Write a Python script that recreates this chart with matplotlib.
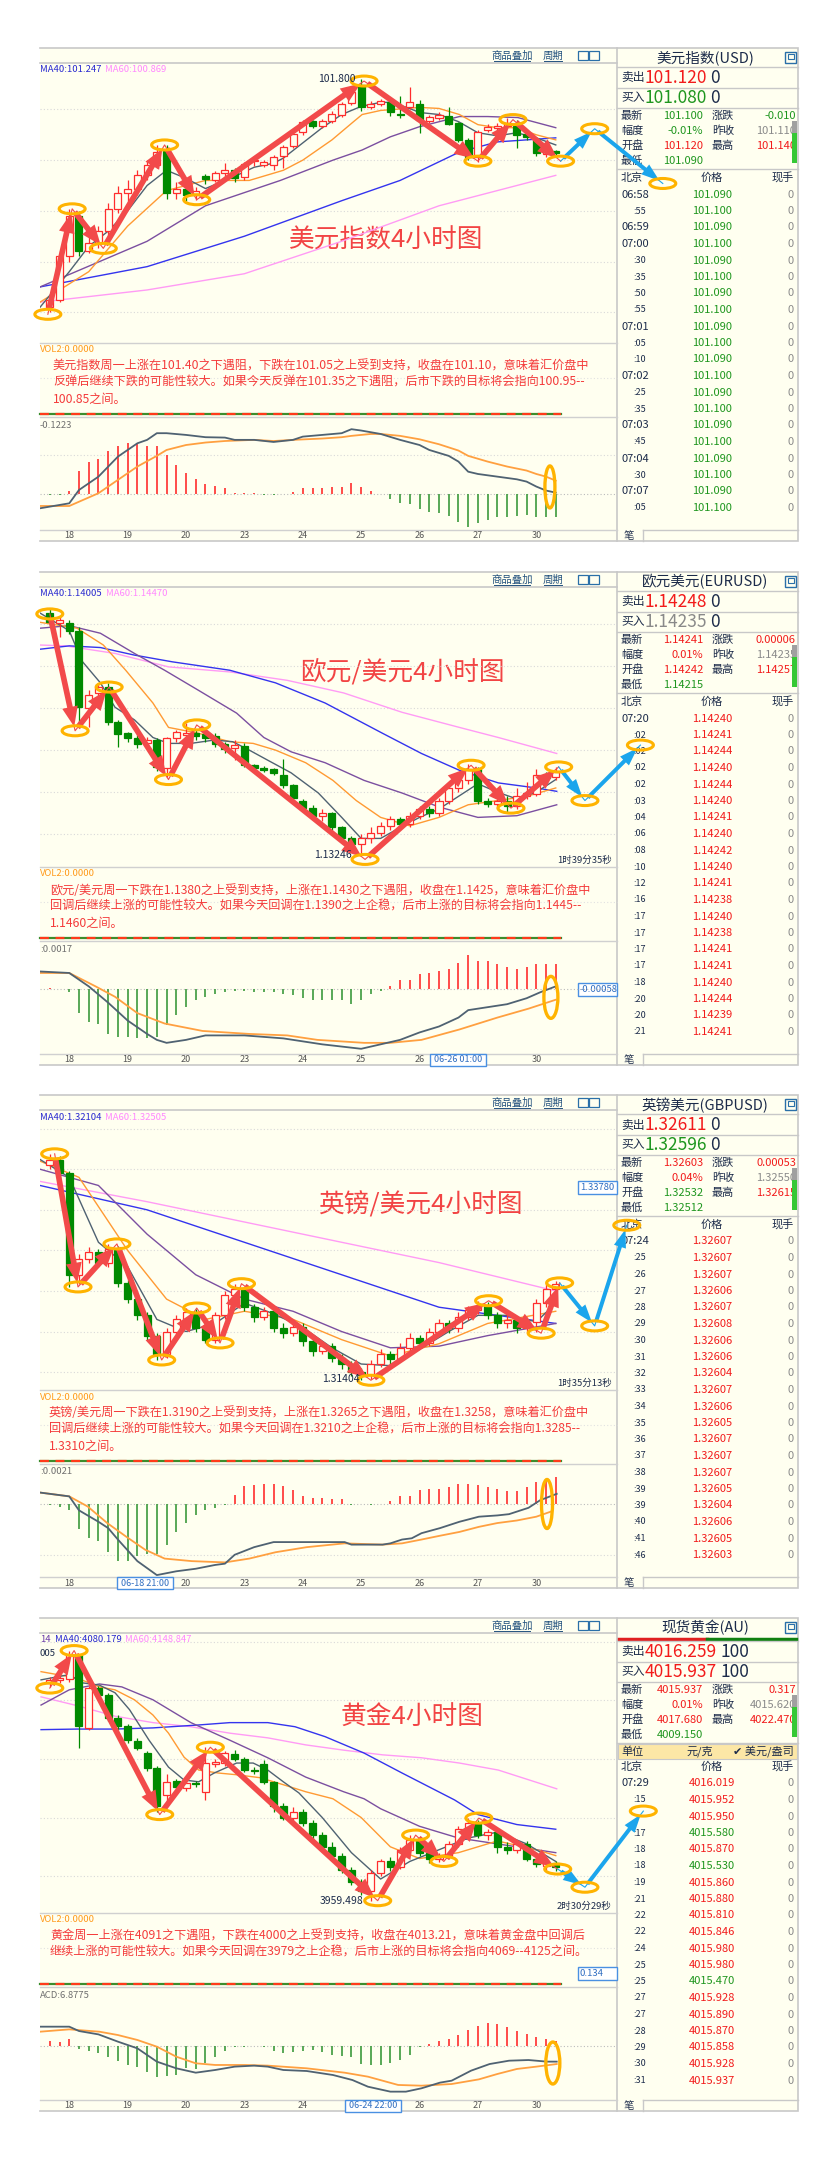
import matplotlib.pyplot as plt
from matplotlib.patches import Rectangle, Ellipse
from matplotlib import transforms

plt.rcParams['font.family'] = ['Noto Sans CJK SC', 'DejaVu Sans']

# ---------------- data ----------------
day_labels = ['18', '19', '20', '23', '24', '25', '26', '27', '30']
day_index = [2, 8, 14, 20, 26, 32, 38, 44, 50]

# 美元指数 4H candles (open, high, low, close)
usd_ohlc = [
    (99.55, 99.66, 99.50, 99.62), (99.62, 100.10, 99.60, 100.05), (100.05, 100.52, 100.00, 100.45),
    (100.45, 100.50, 100.05, 100.10), (100.10, 100.25, 100.08, 100.18), (100.18, 100.35, 100.13, 100.30),
    (100.30, 100.58, 100.25, 100.52), (100.52, 100.75, 100.48, 100.68), (100.68, 100.80, 100.60, 100.72),
    (100.72, 100.90, 100.66, 100.85), (100.85, 101.00, 100.80, 100.95), (100.95, 101.15, 100.92, 101.08),
    (101.09, 101.15, 100.62, 100.68), (100.68, 100.78, 100.62, 100.72), (100.72, 100.76, 100.60, 100.66),
    (100.66, 100.74, 100.61, 100.70), (100.84, 100.86, 100.76, 100.81), (100.80, 100.89, 100.78, 100.87),
    (100.87, 100.97, 100.80, 100.90), (100.90, 100.92, 100.78, 100.82), (100.83, 100.98, 100.80, 100.96),
    (100.99, 101.03, 100.94, 100.99), (100.95, 101.00, 100.93, 100.98), (100.95, 101.05, 100.90, 101.03),
    (101.04, 101.15, 100.92, 101.13), (101.14, 101.28, 101.12, 101.26), (101.28, 101.40, 101.25, 101.38),
    (101.39, 101.40, 101.32, 101.34), (101.34, 101.41, 101.32, 101.39), (101.39, 101.48, 101.37, 101.46),
    (101.45, 101.57, 101.43, 101.55), (101.56, 101.70, 101.54, 101.67), (101.74, 101.80, 101.48, 101.52),
    (101.52, 101.58, 101.50, 101.55), (101.55, 101.60, 101.53, 101.58), (101.57, 101.59, 101.44, 101.47),
    (101.46, 101.63, 101.42, 101.45), (101.52, 101.72, 101.50, 101.57), (101.55, 101.59, 101.27, 101.40),
    (101.39, 101.45, 101.37, 101.43), (101.42, 101.47, 101.40, 101.45), (101.44, 101.52, 101.35, 101.36),
    (101.37, 101.38, 101.18, 101.20), (101.20, 101.22, 101.00, 101.03), (101.03, 101.30, 100.98, 101.28),
    (101.30, 101.36, 101.28, 101.33), (101.32, 101.37, 101.30, 101.34), (101.34, 101.42, 101.32, 101.37),
    (101.34, 101.40, 101.12, 101.25), (101.26, 101.27, 101.20, 101.23), (101.20, 101.22, 101.04, 101.07),
    (101.06, 101.11, 101.03, 101.09), (101.09, 101.10, 101.05, 101.07),
]
usd_ma5 = [(-1, 99.55), (2, 99.9), (4, 100.15), (6, 100.3), (8, 100.5), (10, 100.75), (12, 100.9), (14, 100.82),
           (16, 100.72), (19, 100.84), (21, 100.93), (23, 100.97), (24, 101.02), (26, 101.17), (28, 101.32),
           (30, 101.45), (32, 101.53), (34, 101.57), (35, 101.57), (36.7, 101.52), (38, 101.47), (40, 101.45),
           (42, 101.38), (44, 101.27), (46, 101.24), (48, 101.27), (50, 101.22), (52, 101.15)]
usd_ma10 = [(-1, 99.6), (4, 99.9), (8, 100.35), (12, 100.7), (16, 100.8), (20.5, 100.8), (24, 100.9), (26, 101.0),
            (29, 101.2), (31.1, 101.37), (32.1, 101.45), (34, 101.49), (38, 101.52), (40, 101.51), (42.1, 101.45),
            (44, 101.35), (46, 101.32), (48, 101.32), (50, 101.25), (52, 101.2)]
usd_ma20 = [(-1, 99.75), (10, 100.2), (16, 100.55), (20, 100.68), (23.7, 100.8), (29.1, 101.0), (32.1, 101.1),
            (35, 101.23), (38, 101.33), (42.1, 101.43), (45, 101.43), (48.1, 101.42), (52, 101.32)]
usd_ma40 = [(-1, 99.75), (10, 99.95), (20, 100.25), (30, 100.6), (36, 100.8), (42.1, 101.08), (46, 101.18),
            (52, 101.22)]
usd_ma60 = [(-1, 99.6), (10, 99.72), (20, 99.88), (30, 100.2), (40, 100.55), (52, 100.85)]
usd_swings = [(-0.2, 99.48), (2.3, 100.52), (5.5, 100.13), (11.8, 101.15), (15.1, 100.61), (32.3, 101.78),
              (44.0, 100.99), (47.6, 101.40), (52.5, 100.99)]
usd_forecast = [(52.5, 100.99), (56.0, 101.31), (63.0, 100.77)]
usd_hist = [-0.005, -0.005, 0.018, 0.121, 0.166, 0.182, 0.228, 0.254, 0.270, 0.266, 0.252, 0.252, 0.205,
            0.152, 0.112, 0.077, 0.053, 0.042, 0.030, 0.005, 0.004, 0.004, -0.004, -0.004, 0.001, 0.009,
            0.030, 0.030, 0.030, 0.037, 0.039, 0.056, 0.035, 0.018, 0.002, -0.026, -0.049, -0.053, -0.079,
            -0.096, -0.102, -0.116, -0.145, -0.175, -0.154, -0.137, -0.123, -0.123, -0.116, -0.110, -0.119,
            -0.123, -0.1223]
usd_dif = [(-1, -0.075), (2, -0.049), (3, 0.021), (5, 0.091), (7, 0.196), (9, 0.266), (10, 0.284), (11, 0.319),
           (12, 0.319), (14, 0.310), (16, 0.298), (18, 0.296), (19, 0.284), (21, 0.284), (23, 0.273), (25, 0.284),
           (26, 0.301), (28, 0.310), (30, 0.319), (31, 0.340), (32, 0.333), (34, 0.315), (36, 0.284), (38, 0.257),
           (39, 0.231), (41, 0.200), (42, 0.170), (43, 0.117), (44, 0.105), (46, 0.091), (48, 0.077), (49, 0.065),
           (50, 0.039), (51, 0.018), (52, 0.007)]
usd_dea = [(-1, -0.063), (2, -0.063), (5, 0.004), (7, 0.074), (9, 0.144), (11, 0.200), (12, 0.231), (14, 0.257),
           (16, 0.270), (18, 0.278), (21, 0.284), (23, 0.278), (25, 0.284), (28, 0.291), (30, 0.298), (31, 0.305),
           (33, 0.315), (34, 0.315), (36, 0.305), (38, 0.287), (40, 0.261), (42, 0.228), (43, 0.200), (45, 0.170),
           (47, 0.144), (49, 0.123), (50, 0.105), (51, 0.091), (52, 0.070)]
usd_note = ['美元指数周一上涨在101.40之下遇阻，下跌在101.05之上受到支持，收盘在101.10，意味着汇价盘中',
            '反弹后继续下跌的可能性较大。如果今天反弹在101.35之下遇阻，后市下跌的目标将会指向100.95--',
            '100.85之间。']
usd_quote_ask = ('101.120', '0', 'r')
usd_quote_bid = ('101.080', '0', 'g')
usd_quote_info = [('最新', '101.100', 'g', '涨跌', '-0.010', 'g'), ('幅度', '-0.01%', 'g', '昨收', '101.110', 'k'),
                  ('开盘', '101.120', 'r', '最高', '101.140', 'r'), ('最低', '101.090', 'g', '', '', '')]
usd_ticks = [('06:58', '101.090', 'g'), (':55', '101.100', 'g'), ('06:59', '101.090', 'g'), ('07:00', '101.100', 'g'),
             (':30', '101.090', 'g'), (':35', '101.100', 'g'), (':50', '101.090', 'g'), (':55', '101.100', 'g'),
             ('07:01', '101.090', 'g'), (':05', '101.100', 'g'), (':10', '101.090', 'g'), ('07:02', '101.100', 'g'),
             (':25', '101.090', 'g'), (':35', '101.100', 'g'), ('07:03', '101.090', 'g'), (':45', '101.100', 'g'),
             ('07:04', '101.090', 'g'), (':30', '101.100', 'g'), ('07:07', '101.090', 'g'), (':05', '101.100', 'g')]

# 欧元/美元
eur_ohlc = [
    (1.1613, 1.1618, 1.1598, 1.1602), (1.1601, 1.1610, 1.1585, 1.1605), (1.1601, 1.1605, 1.1588, 1.1592),
    (1.1592, 1.1596, 1.1480, 1.1501), (1.1500, 1.1521, 1.1478, 1.1515), (1.1518, 1.1530, 1.1512, 1.1525),
    (1.1525, 1.1530, 1.1480, 1.1483), (1.1483, 1.1486, 1.1454, 1.1469), (1.1470, 1.1472, 1.1460, 1.1465),
    (1.1465, 1.1468, 1.1452, 1.1457), (1.1458, 1.1466, 1.1455, 1.1462), (1.1462, 1.1465, 1.1425, 1.1430),
    (1.1429, 1.1466, 1.1418, 1.1464), (1.1464, 1.1474, 1.1460, 1.1471), (1.1468, 1.1482, 1.1465, 1.1470),
    (1.1470, 1.1475, 1.1462, 1.1467), (1.1469, 1.1471, 1.1460, 1.1465), (1.1467, 1.1470, 1.1454, 1.1457),
    (1.1457, 1.1460, 1.1447, 1.1451), (1.1452, 1.1462, 1.1438, 1.1456), (1.1455, 1.1458, 1.1430, 1.1432),
    (1.1432, 1.1434, 1.1426, 1.1429), (1.1429, 1.1431, 1.1424, 1.1426), (1.1427, 1.1429, 1.1420, 1.1423),
    (1.1420, 1.1440, 1.1405, 1.1408), (1.1408, 1.1410, 1.1390, 1.1393), (1.1390, 1.1392, 1.1378, 1.1381),
    (1.1381, 1.1385, 1.1368, 1.1372), (1.1372, 1.1380, 1.1366, 1.1375), (1.1375, 1.1377, 1.1355, 1.1358),
    (1.1358, 1.1360, 1.1340, 1.1345), (1.1345, 1.1348, 1.1333, 1.1338), (1.1338, 1.1350, 1.1325, 1.1345),
    (1.1345, 1.1358, 1.1340, 1.1352), (1.1352, 1.1365, 1.1348, 1.1360), (1.1360, 1.1372, 1.1355, 1.1368),
    (1.1368, 1.1371, 1.1358, 1.1362), (1.1362, 1.1376, 1.1358, 1.1372), (1.1372, 1.1384, 1.1368, 1.1380),
    (1.1380, 1.1383, 1.1370, 1.1375), (1.1375, 1.1393, 1.1372, 1.1390), (1.1390, 1.1408, 1.1386, 1.1405),
    (1.1405, 1.1418, 1.1400, 1.1414), (1.1414, 1.1433, 1.1410, 1.1428), (1.1428, 1.1430, 1.1386, 1.1390),
    (1.1390, 1.1393, 1.1382, 1.1386), (1.1386, 1.1392, 1.1380, 1.1389), (1.1390, 1.1395, 1.1376, 1.1384),
    (1.1384, 1.1405, 1.1380, 1.1395), (1.1395, 1.1412, 1.1392, 1.1399), (1.1398, 1.1428, 1.1395, 1.1420),
    (1.1420, 1.1424, 1.1412, 1.1417), (1.1418, 1.1430, 1.1414, 1.1424),
]
eur_ma5 = [(-1, 1.1613), (2, 1.1592), (3.3, 1.1556), (5.2, 1.1530), (6.7, 1.1501), (8.7, 1.1486), (10.6, 1.1465),
           (12.2, 1.1458), (14.5, 1.1458), (16.9, 1.1462), (18.8, 1.1460), (20.5, 1.1450), (22.4, 1.1438),
           (24.8, 1.1423), (27.6, 1.1399), (30, 1.1370), (32, 1.1345), (34, 1.1345), (36, 1.1358), (38, 1.1370),
           (40, 1.1380), (42, 1.1395), (44, 1.1410), (46, 1.1400), (48, 1.1392), (50, 1.1400), (52, 1.1415)]
eur_ma10 = [(-1, 1.1602), (2.8, 1.1595), (5.5, 1.1575), (7.8, 1.1545), (10.6, 1.1506), (12.2, 1.1477),
            (15.3, 1.1470), (18.5, 1.1460), (20.9, 1.1458), (23.2, 1.1450), (26.3, 1.1435), (29.1, 1.1414),
            (31.5, 1.1390), (34, 1.1370), (37, 1.1360), (40, 1.1370), (43, 1.1385), (46, 1.1390), (49, 1.1395),
            (52, 1.1405)]
eur_ma20 = [(-1, 1.1595), (2, 1.1598), (5.2, 1.1589), (8.7, 1.1565), (11.8, 1.1545), (15.3, 1.1521),
            (19.2, 1.1494), (22, 1.1465), (24.8, 1.1448), (28.3, 1.1435), (32.3, 1.1414), (36.2, 1.1399),
            (40.1, 1.1382), (44, 1.1370), (48, 1.1372), (52.1, 1.1385)]
eur_ma40 = [(-1, 1.1570), (2, 1.1574), (5.2, 1.1572), (8.7, 1.1563), (12.6, 1.1555), (18.5, 1.1545),
            (23.2, 1.1530), (28.3, 1.1506), (34.2, 1.1470), (38.2, 1.1446), (42.1, 1.1426), (46.1, 1.1411),
            (50, 1.1405), (52.1, 1.1401)]
eur_ma60 = [(-1, 1.1575), (1.6, 1.1574), (6.7, 1.1565), (12.2, 1.1549), (18.5, 1.1543), (24.4, 1.1533),
            (30.2, 1.1518), (36.2, 1.1495), (42.1, 1.1477), (46.1, 1.1465), (52.1, 1.1446)]
eur_swings = [(0, 1.1612), (2.6, 1.1473), (6.1, 1.1525), (12.2, 1.1415), (15.1, 1.1480), (32.4, 1.1320),
              (43.3, 1.1432), (47.4, 1.1381), (52.3, 1.1430)]
eur_forecast = [(52.3, 1.1430), (55.0, 1.1390), (60.7, 1.1456)]
eur_hist = [0.0001, 0.0, -0.0002, -0.0016, -0.0022, -0.0023, -0.0030, -0.0032, -0.0032, -0.0033, -0.0033,
            -0.0032, -0.0024, -0.0017, -0.0012, -0.0007, -0.0005, -0.0003, -0.0002, -0.0001, -0.0001, -0.0002,
            -0.0002, -0.0002, -0.0003, -0.0004, -0.0006, -0.0007, -0.0007, -0.0007, -0.0007, -0.0010, -0.0007,
            -0.0003, -0.0001, 0.0002, 0.0006, 0.0006, 0.0010, 0.0011, 0.0012, 0.0014, 0.0018, 0.0023, 0.0019,
            0.0019, 0.0017, 0.0015, 0.0014, 0.0015, 0.0017, 0.0017, 0.0017]
eur_dif = [(-1, 0.0012), (2, 0.0011), (4, 0.0002), (6, -0.0009), (8, -0.0021), (10, -0.0030), (11, -0.0034),
           (12, -0.0036), (14, -0.0034), (16, -0.0031), (20, -0.0031), (24, -0.0033), (28, -0.0037), (32, -0.0040),
           (34, -0.0037), (36, -0.0034), (38, -0.0029), (40, -0.0025), (42, -0.0019), (43, -0.0014), (46, -0.0011),
           (47, -0.0010), (49, -0.0006), (50.4, -0.0002), (52, 0.0002)]
eur_dea = [(-1, 0.0011), (2, 0.0011), (4.7, 0.0002), (6.7, -0.0005), (9, -0.0016), (11.8, -0.0023),
           (15.7, -0.0028), (20.5, -0.0030), (24.4, -0.0031), (27.5, -0.0034), (32.3, -0.0036), (35, -0.0036),
           (38.2, -0.0034), (42.1, -0.0027), (46, -0.0019), (49.2, -0.0013), (52, -0.0007)]
eur_note = ['欧元/美元周一下跌在1.1380之上受到支持，上涨在1.1430之下遇阻，收盘在1.1425，意味着汇价盘中',
            '回调后继续上涨的可能性较大。如果今天回调在1.1390之上企稳，后市上涨的目标将会指向1.1445--',
            '1.1460之间。']
eur_quote_ask = ('1.14248', '0', 'r')
eur_quote_bid = ('1.14235', '0', 'k')
eur_quote_info = [('最新', '1.14241', 'r', '涨跌', '0.00006', 'r'), ('幅度', '0.01%', 'r', '昨收', '1.14235', 'k'),
                  ('开盘', '1.14242', 'r', '最高', '1.14257', 'r'), ('最低', '1.14215', 'g', '', '', '')]
eur_ticks = [('07:20', '1.14240', 'r'), (':02', '1.14241', 'r'), (':02', '1.14244', 'r'), (':02', '1.14240', 'r'),
             (':02', '1.14244', 'r'), (':03', '1.14240', 'r'), (':04', '1.14241', 'r'), (':06', '1.14240', 'r'),
             (':08', '1.14242', 'r'), (':10', '1.14240', 'r'), (':12', '1.14241', 'r'), (':16', '1.14238', 'r'),
             (':17', '1.14240', 'r'), (':17', '1.14238', 'r'), (':17', '1.14241', 'r'), (':17', '1.14241', 'r'),
             (':18', '1.14240', 'r'), (':20', '1.14244', 'r'), (':20', '1.14239', 'r'), (':21', '1.14241', 'r')]

# 英镑/美元
gbp_ohlc = [
    (1.3405, 1.3419, 1.3400, 1.3412), (1.3412, 1.3416, 1.3388, 1.3395), (1.3395, 1.3398, 1.3255, 1.3270),
    (1.3270, 1.3296, 1.3258, 1.3290), (1.3290, 1.3304, 1.3284, 1.3298), (1.3298, 1.3302, 1.3280, 1.3285),
    (1.3285, 1.3308, 1.3280, 1.3302), (1.3302, 1.3305, 1.3255, 1.3260), (1.3260, 1.3264, 1.3235, 1.3240),
    (1.3240, 1.3244, 1.3214, 1.3220), (1.3220, 1.3224, 1.3190, 1.3195), (1.3195, 1.3198, 1.3165, 1.3172),
    (1.3172, 1.3205, 1.3168, 1.3200), (1.3200, 1.3220, 1.3196, 1.3215), (1.3215, 1.3229, 1.3210, 1.3224),
    (1.3224, 1.3228, 1.3200, 1.3205), (1.3205, 1.3208, 1.3186, 1.3190), (1.3190, 1.3224, 1.3186, 1.3220),
    (1.3220, 1.3250, 1.3216, 1.3245), (1.3245, 1.3259, 1.3240, 1.3252), (1.3252, 1.3255, 1.3225, 1.3230),
    (1.3230, 1.3234, 1.3212, 1.3218), (1.3218, 1.3230, 1.3214, 1.3225), (1.3225, 1.3228, 1.3200, 1.3205),
    (1.3205, 1.3210, 1.3192, 1.3198), (1.3198, 1.3212, 1.3194, 1.3206), (1.3206, 1.3210, 1.3182, 1.3188),
    (1.3188, 1.3192, 1.3170, 1.3176), (1.3176, 1.3188, 1.3172, 1.3182), (1.3182, 1.3186, 1.3162, 1.3168),
    (1.3168, 1.3172, 1.3154, 1.3160), (1.3160, 1.3164, 1.3145, 1.3150), (1.3150, 1.3155, 1.3140, 1.3146),
    (1.3146, 1.3165, 1.3142, 1.3160), (1.3160, 1.3178, 1.3156, 1.3172), (1.3172, 1.3176, 1.3160, 1.3166),
    (1.3166, 1.3186, 1.3162, 1.3180), (1.3180, 1.3198, 1.3176, 1.3192), (1.3192, 1.3196, 1.3180, 1.3186),
    (1.3186, 1.3205, 1.3182, 1.3200), (1.3200, 1.3216, 1.3196, 1.3210), (1.3210, 1.3214, 1.3198, 1.3204),
    (1.3204, 1.3224, 1.3200, 1.3218), (1.3218, 1.3232, 1.3214, 1.3226), (1.3226, 1.3238, 1.3222, 1.3232),
    (1.3232, 1.3236, 1.3215, 1.3220), (1.3220, 1.3224, 1.3205, 1.3210), (1.3210, 1.3220, 1.3204, 1.3214),
    (1.3214, 1.3218, 1.3198, 1.3204), (1.3204, 1.3218, 1.3198, 1.3212), (1.3212, 1.3240, 1.3200, 1.3235),
    (1.3235, 1.3260, 1.3230, 1.3252), (1.3252, 1.3262, 1.3248, 1.3258),
]
gbp_ma5 = [(-1, 1.3412), (2, 1.3390), (5, 1.3310), (8, 1.3280), (11, 1.3215), (14, 1.3200), (17, 1.3210),
           (20, 1.3235), (23, 1.3222), (26, 1.3205), (29, 1.3180), (32, 1.3160), (35, 1.3158), (38, 1.3178),
           (41, 1.3200), (44, 1.3220), (47, 1.3220), (50, 1.3212), (52, 1.3235)]
gbp_ma10 = [(-1, 1.3410), (3, 1.3390), (8, 1.3300), (12, 1.3240), (16, 1.3215), (20, 1.3225), (25, 1.3215),
            (30, 1.3190), (35, 1.3170), (40, 1.3185), (45, 1.3210), (52, 1.3225)]
gbp_ma20 = [(-1, 1.3400), (5, 1.3380), (10, 1.3320), (15, 1.3270), (20, 1.3240), (25, 1.3225), (30, 1.3200),
            (35, 1.3180), (40, 1.3182), (45, 1.3195), (52, 1.3210)]
gbp_ma40 = [(-1, 1.3380), (10, 1.3350), (20, 1.3310), (30, 1.3270), (40, 1.3230), (52, 1.3210)]
gbp_ma60 = [(-1, 1.3385), (10, 1.3360), (20, 1.3335), (30, 1.3310), (40, 1.3285), (52, 1.3250)]
gbp_swings = [(0.5, 1.3419), (2.9, 1.3255), (6.9, 1.3308), (11.5, 1.3165), (15.1, 1.3229), (17.5, 1.3186),
              (19.7, 1.3259), (33.0, 1.3140), (45.1, 1.3238), (50.5, 1.3198), (52.4, 1.3260)]
gbp_forecast = [(52.4, 1.3260), (56.0, 1.3207), (59.3, 1.3331)]
gbp_hist = [-0.0001, -0.0002, -0.0005, -0.0020, -0.0027, -0.0029, -0.0038, -0.0045, -0.0045, -0.0041, -0.0039,
            -0.0039, -0.0032, -0.0022, -0.0015, -0.0009, -0.0005, -0.0003, -0.0001, 0.0007, 0.0014, 0.0015,
            0.0016, 0.0016, 0.0014, 0.0011, 0.0006, 0.0005, 0.0005, 0.0004, 0.0004, -0.0001, 0.0000, -0.0001,
            0.0000, 0.0002, 0.0006, 0.0006, 0.0011, 0.0012, 0.0012, 0.0013, 0.0016, 0.0016, 0.0015, 0.0013,
            0.0012, 0.0010, 0.0010, 0.0013, 0.0017, 0.0018, 0.0021]
gbp_dif = [(-1, 0.0009), (2, 0.0006), (3, -0.0005), (5, -0.0014), (6, -0.0019), (7, -0.0028), (9, -0.0045),
           (11, -0.0056), (13, -0.0053), (15, -0.0051), (17, -0.0048), (18, -0.0047), (19, -0.0040), (21, -0.0034),
           (23, -0.0030), (25, -0.0030), (26, -0.0030), (30.3, -0.0030), (31, -0.0032), (34.2, -0.0032),
           (35, -0.0031), (36.2, -0.0028), (37.2, -0.0027), (38.2, -0.0023), (40.1, -0.0019), (42.1, -0.0014),
           (44.1, -0.0010), (46, -0.0009), (47.2, -0.0008), (49.2, -0.0003), (50.4, 0.0003), (52.1, 0.0008)]
gbp_dea = [(-1, 0.0009), (2, 0.0006), (3.9, -0.0002), (5.9, -0.0015), (7.9, -0.0026), (9.8, -0.0036),
           (11.8, -0.0043), (14.6, -0.0045), (18, -0.0046), (20.5, -0.0043), (23.2, -0.0038), (26.4, -0.0034),
           (30.3, -0.0031), (34.2, -0.0032), (36.2, -0.0031), (38.2, -0.0028), (40.1, -0.0025), (42.1, -0.0022),
           (44.1, -0.0018), (46, -0.0015), (48, -0.0013), (50, -0.0010), (51.5, -0.0006)]
gbp_note = ['英镑/美元周一下跌在1.3190之上受到支持，上涨在1.3265之下遇阻，收盘在1.3258，意味着汇价盘中',
            '回调后继续上涨的可能性较大。如果今天回调在1.3210之上企稳，后市上涨的目标将会指向1.3285--',
            '1.3310之间。']
gbp_quote_ask = ('1.32611', '0', 'r')
gbp_quote_bid = ('1.32596', '0', 'g')
gbp_quote_info = [('最新', '1.32603', 'r', '涨跌', '0.00053', 'r'), ('幅度', '0.04%', 'r', '昨收', '1.32550', 'k'),
                  ('开盘', '1.32532', 'g', '最高', '1.32615', 'r'), ('最低', '1.32512', 'g', '', '', '')]
gbp_ticks = [('07:24', '1.32607', 'r'), (':25', '1.32607', 'r'), (':26', '1.32607', 'r'), (':27', '1.32606', 'r'),
             (':28', '1.32607', 'r'), (':29', '1.32608', 'r'), (':30', '1.32606', 'r'), (':31', '1.32606', 'r'),
             (':32', '1.32604', 'r'), (':33', '1.32607', 'r'), (':34', '1.32606', 'r'), (':35', '1.32605', 'r'),
             (':36', '1.32607', 'r'), (':37', '1.32607', 'r'), (':38', '1.32607', 'r'), (':39', '1.32605', 'r'),
             (':39', '1.32604', 'r'), (':40', '1.32606', 'r'), (':41', '1.32605', 'r'), (':46', '1.32603', 'r')]

# 现货黄金
xau_ohlc = [
    (4330, 4340, 4322, 4335), (4334, 4342, 4330, 4338), (4336, 4385, 4332, 4378), (4378, 4380, 4219, 4256),
    (4253, 4325, 4250, 4321), (4321, 4325, 4305, 4309), (4309, 4312, 4265, 4270), (4270, 4275, 4250, 4256),
    (4256, 4260, 4228, 4232), (4231, 4236, 4215, 4219), (4210, 4214, 4180, 4185), (4185, 4188, 4110, 4120),
    (4138, 4175, 4120, 4161), (4162, 4166, 4148, 4152), (4150, 4163, 4145, 4159), (4159, 4162, 4152, 4157),
    (4144, 4220, 4130, 4193), (4191, 4200, 4186, 4195), (4193, 4214, 4188, 4210), (4209, 4215, 4196, 4200),
    (4200, 4203, 4177, 4181), (4181, 4186, 4175, 4179), (4191, 4198, 4158, 4161), (4161, 4163, 4110, 4120),
    (4120, 4125, 4095, 4100), (4100, 4118, 4092, 4110), (4110, 4114, 4085, 4090), (4090, 4095, 4062, 4070),
    (4070, 4075, 4045, 4050), (4050, 4058, 4030, 4035), (4035, 4040, 4005, 4010), (4010, 4015, 3985, 3990),
    (3990, 3995, 3968, 3975), (3975, 4010, 3958, 4005), (4005, 4030, 4000, 4025), (4025, 4032, 4008, 4015),
    (4015, 4050, 4012, 4045), (4045, 4070, 4040, 4062), (4062, 4066, 4035, 4040), (4040, 4045, 4022, 4030),
    (4030, 4040, 4024, 4035), (4035, 4060, 4030, 4055), (4055, 4085, 4050, 4080), (4080, 4099, 4075, 4090),
    (4090, 4095, 4065, 4070), (4070, 4080, 4062, 4075), (4075, 4078, 4040, 4050), (4050, 4058, 4038, 4045),
    (4045, 4062, 4040, 4055), (4055, 4060, 4025, 4030), (4030, 4036, 4015, 4020), (4018, 4030, 4010, 4022),
    (4022, 4025, 4009, 4015),
]
xau_ma5 = [(-0.9, 4335), (2, 4344), (3.3, 4330), (5.1, 4326), (6.7, 4313), (8.2, 4284), (10.2, 4232), (12.2, 4186),
           (13.8, 4164), (15.3, 4161), (16.9, 4176), (19.2, 4193), (20.9, 4193), (22.4, 4181), (24, 4161),
           (25.6, 4142), (28, 4100), (31, 4040), (34, 3995), (37, 4025), (40, 4045), (43, 4065), (46, 4075),
           (49, 4055), (52, 4025)]
xau_ma10 = [(-0.9, 4349), (2.8, 4338), (5.1, 4323), (6.7, 4318), (8.7, 4301), (10.6, 4275), (12.2, 4244),
            (13.8, 4203), (15.3, 4181), (17.3, 4176), (19.2, 4173), (21.6, 4168), (24, 4156), (26.3, 4144),
            (29.1, 4132), (32, 4100), (35, 4050), (38, 4030), (42, 4040), (46, 4060), (50, 4045), (52, 4035)]
xau_ma20 = [(-0.9, 4292), (2, 4318), (5.1, 4328), (7.4, 4323), (10.6, 4301), (14.5, 4262), (18.5, 4232),
            (22.4, 4202), (26.3, 4169), (30.2, 4144), (32.3, 4132), (34, 4115), (38, 4085), (42, 4065),
            (46, 4055), (50, 4045), (52, 4040)]
xau_ma40 = [(-0.9, 4250), (2.8, 4251), (6.7, 4251), (10.6, 4253), (15.3, 4258), (18.5, 4262), (22.4, 4262),
            (25.2, 4255), (28.3, 4238), (32.3, 4210), (36.2, 4176), (41.6, 4130), (44, 4105), (48, 4088),
            (52, 4080)]
xau_ma60 = [(-0.9, 4306), (2.8, 4291), (6.7, 4273), (10.6, 4262), (14.5, 4255), (18.5, 4244), (22.4, 4236),
            (26.3, 4224), (30.2, 4215), (34.2, 4207), (38.2, 4202), (42.1, 4193), (46.1, 4181), (52.1, 4149)]
xau_swings = [(0, 4321), (2.5, 4385), (11.3, 4105), (16.5, 4220), (33.7, 3958), (37.6, 4070), (40.5, 4025),
              (44.1, 4099), (52.2, 4012)]
xau_forecast = [(52.2, 4012), (55.0, 3981), (61.0, 4111)]
xau_hist = [6.9, 6.0, 9.2, -4.6, -6.4, -9.2, -14.7, -20.2, -26.1, -29.3, -35.3, -42.2, -40.8, -39.9, -30.7,
            -32.1, -23.8, -14.7, -6.4, -1.8, -0.9, 0.5, -0.9, -6.4, -9.2, -7.8, -6.4, -5.5, -8.7, -12.4, -13.3,
            -15.6, -25.2, -26.1, -26.1, -22.9, -19.3, -12.4, -1.8, 2.8, 7.3, 9.2, 15.1, 22.0, 27.5, 31.2, 29.8,
            26.6, 20.6, 16.0, 12.8, 9.2, 6.9]
xau_dif = [(-1, 26.6), (2, 26.6), (3, 20.6), (5, 16.0), (7, 6.0), (9, -3.2), (11, -21.5), (13, -30.7), (15, -36.7),
           (17, -33.0), (19, -28.4), (21, -27.0), (22.4, -28.4), (24, -33.0), (26.4, -34.4), (29.1, -39.9),
           (31.1, -46.8), (32.7, -56.0), (35, -62.8), (36.6, -62.8), (38.2, -58.2), (40.1, -50.4), (41.3, -47.7),
           (43.3, -33.9), (45.2, -24.8), (47.2, -20.2), (49.2, -19.3), (51.1, -21.5), (52.1, -21.5)]
xau_dea = [(-1, 19.7), (2, 22.9), (5.1, 19.7), (7, 15.1), (9, 8.3), (11, -0.9), (13, -14.7), (15, -23.8),
           (17, -26.1), (20, -26.1), (22.4, -27.0), (26.4, -30.7), (30.3, -36.7), (32.7, -42.2), (35.8, -53.6),
           (38.2, -54.6), (41.3, -52.3), (44.1, -45.9), (46, -38.5), (48, -31.6), (50, -28.4), (52.1, -24.8)]
xau_note = ['黄金周一上涨在4091之下遇阻，下跌在4000之上受到支持，收盘在4013.21，意味着黄金盘中回调后',
            '继续上涨的可能性较大。如果今天回调在3979之上企稳，后市上涨的目标将会指向4069--4125之间。']
xau_quote_ask = ('4016.259', '100', 'r')
xau_quote_bid = ('4015.937', '100', 'r')
xau_quote_info = [('最新', '4015.937', 'r', '涨跌', '0.317', 'r'), ('幅度', '0.01%', 'r', '昨收', '4015.620', 'k'),
                  ('开盘', '4017.680', 'r', '最高', '4022.470', 'r'), ('最低', '4009.150', 'g', '', '', '')]
xau_ticks = [('07:29', '4016.019', 'r'), (':15', '4015.952', 'r'), ('', '4015.950', 'r'), (':17', '4015.580', 'g'),
             (':18', '4015.870', 'r'), (':18', '4015.530', 'g'), (':19', '4015.860', 'r'), (':21', '4015.880', 'r'),
             (':22', '4015.810', 'r'), (':22', '4015.846', 'r'), (':24', '4015.980', 'r'), (':25', '4015.980', 'r'),
             (':25', '4015.470', 'g'), (':27', '4015.928', 'r'), (':27', '4015.890', 'r'), (':28', '4015.870', 'r'),
             (':29', '4015.858', 'r'), (':30', '4015.928', 'r'), (':31', '4015.937', 'r')]

# ---------------- layout / style ----------------
W, H = 840, 2158
X_L, X_R, Q_R = 40, 617, 798
I0, STEP = 49.8, 9.73
XLIM = ((X_L - I0) / STEP, (X_R - I0) / STEP)
CREAM = '#FFFFF0'
FRAME = '#C8C8C8'
NAVY = '#1C2B4A'
RED = '#FF2D2D'
GREEN = '#008A00'
QCOL = {'r': '#F21B1B', 'g': '#1E961E', 'k': '#8A8A8A'}
MA_COLORS = ['#4F6272', '#FF9A33', '#7B4FA0', '#3434EE', '#FF9BF5']
ARROW_RED = '#F24A4A'
GOLD = '#FFB300'
BLUE_ARROW = '#1BA5EC'

panels = [
    dict(top=48, ohlc=usd_ohlc, mas=[usd_ma5, usd_ma10, usd_ma20, usd_ma40, usd_ma60], ylim=(99.197, 101.958),
         grid=[99.5, 100.0, 100.5, 101.0, 101.5], swings=usd_swings, forecast=usd_forecast,
         hist=usd_hist, dif=usd_dif, dea=usd_dea, mlim=(-0.189, 0.404), mgrid=[0.205], mmark=(51.4, 0.037, 10, 42),
         ma_text=[('MA40:101.247', '#2828D0'), ('MA60:100.869', '#FF88FF')], title='美元指数4小时图',
         title_xy=(386, 193), hi_label=('101.800', 31.4, 101.80), timer=None, note=usd_note, note_x=53,
         macd_label='-0.1223', right_box=None, date_box=None, qtitle='美元指数(USD)', ask=usd_quote_ask,
         bid=usd_quote_bid, info=usd_quote_info, ticks=usd_ticks, gold=False),
    dict(top=572, ohlc=eur_ohlc, mas=[eur_ma5, eur_ma10, eur_ma20, eur_ma40, eur_ma60], ylim=(1.1311, 1.1644),
         grid=[1.135, 1.140, 1.145, 1.150, 1.155, 1.160], swings=eur_swings, forecast=eur_forecast,
         hist=eur_hist, dif=eur_dif, dea=eur_dea, mlim=(-0.00435, 0.00325), mgrid=[], mmark=(51.5, -0.00054, 14, 42),
         ma_text=[('MA40:1.14005', '#2828D0'), ('MA60:1.14470', '#FF88FF')], title='欧元/美元4小时图',
         title_xy=(402, 100), hi_label=('1.13246', 31.0, 1.1325), timer='1时39分35秒', note=eur_note, note_x=50,
         macd_label=':0.0017', right_box=('-0.00058', 417), date_box=('06-26 01:00', 458), qtitle='欧元美元(EURUSD)',
         ask=eur_quote_ask, bid=eur_quote_bid, info=eur_quote_info, ticks=eur_ticks, gold=False),
    dict(top=1095, ohlc=gbp_ohlc, mas=[gbp_ma5, gbp_ma10, gbp_ma20, gbp_ma40, gbp_ma60], ylim=(1.3128, 1.3473),
         grid=[1.315, 1.320, 1.325, 1.330, 1.335, 1.340, 1.345], swings=gbp_swings, forecast=gbp_forecast,
         hist=gbp_hist, dif=gbp_dif, dea=gbp_dea, mlim=(-0.00575, 0.00315), mgrid=[-0.0040], mmark=(51.1, 0.0, 11, 49),
         ma_text=[('MA40:1.32104', '#2828D0'), ('MA60:1.32505', '#FF88FF')], title='英镑/美元4小时图',
         title_xy=(420, 110), hi_label=('1.31404', 31.8, 1.3142), timer='1时35分13秒', note=gbp_note, note_x=49,
         macd_label=':0.0021', right_box=('1.33780', 92), date_box=('06-18 21:00', 145), qtitle='英镑美元(GBPUSD)',
         ask=gbp_quote_ask, bid=gbp_quote_bid, info=gbp_quote_info, ticks=gbp_ticks, gold=False),
    dict(top=1618, ohlc=xau_ohlc, mas=[xau_ma5, xau_ma10, xau_ma20, xau_ma40, xau_ma60], ylim=(3937, 4415),
         grid=[4000, 4100, 4200, 4300, 4400], swings=xau_swings, forecast=xau_forecast,
         hist=xau_hist, dif=xau_dif, dea=xau_dea, mlim=(-74.3, 81.2), mgrid=[], mmark=(51.7, -23.4, 14, 42),
         ma_text=[('14', '#6A3AA8'), ('MA40:4080.179', '#2828D0'), ('MA60:4148.847', '#FF88FF')],
         title='黄金4小时图', title_xy=(412, 100), hi_label=('3959.498', 32.2, 3957), timer='2时30分29秒',
         note=xau_note, note_x=50, macd_label='ACD:6.8775', right_box=('0.134', 355), date_box=('06-24 22:00', 373),
         qtitle='现货黄金(AU)', ask=xau_quote_ask, bid=xau_quote_bid, info=xau_quote_info, ticks=xau_ticks, gold=True),
]

fig = plt.figure(figsize=(W / 100, H / 100), dpi=100)
fig.patch.set_facecolor('white')
bg = fig.add_axes([0, 0, 1, 1], zorder=0)
bg.set_xlim(0, W)
bg.set_ylim(H, 0)
bg.axis('off')
renderer = fig.canvas.get_renderer()


def px_axes(x0, y0, x1, y1):
    a = fig.add_axes([x0 / W, 1 - y1 / H, (x1 - x0) / W, (y1 - y0) / H], zorder=2)
    a.set_xlim(*XLIM)
    a.axis('off')
    return a


def hline(y, x0=X_L, x1=X_R, **kw):
    bg.plot([x0, x1], [y, y], **kw)


def right_of(txt):
    bb = txt.get_window_extent(renderer)
    return bg.transData.inverted().transform((bb.x1, bb.y0))[0]


def draw_main(p):
    T = p['top']
    ax = px_axes(X_L, T + 15, X_R, T + 295)
    lo, hi = p['ylim']
    ax.set_ylim(lo, hi)
    per_px = (hi - lo) / 280.0
    for g in p['grid']:
        ax.axhline(g, color='#D9D9D9', lw=0.8, ls=(0, (1, 2)), zorder=1)
    for col, line in zip(MA_COLORS[::-1], p['mas'][::-1]):
        ax.plot([a for a, _ in line], [b for _, b in line], color=col, lw=1.0, zorder=2)
    for i, (o, h, l, c) in enumerate(p['ohlc']):
        up = c >= o
        col = RED if up else GREEN
        ax.vlines(i, l, h, color=col, lw=0.9, zorder=3)
        b0, b1 = min(o, c), max(o, c)
        ax.add_patch(Rectangle((i - 0.36, b0), 0.72, max(b1 - b0, per_px * 0.8),
                               facecolor=CREAM if up else GREEN, edgecolor=col, lw=0.9, zorder=4))
    ew, eh = 26 / STEP, 10 * per_px

    def arrow(a, b, color, tail, head_w, head_l):
        ann = ax.annotate('', xy=b, xytext=a, annotation_clip=False, zorder=6,
                          arrowprops=dict(arrowstyle='simple,head_width=%s,head_length=%s,tail_width=%s'
                                          % (head_w, head_l, tail), fc=color, ec='none', mutation_scale=12,
                                          shrinkA=3, shrinkB=3))
        ann.arrow_patch.set_clip_on(False)

    sw = p['swings']
    fc = p['forecast']
    # thin guide lines drawn by the charting tool between the marked turning points
    ax.plot([a for a, _ in sw], [b for _, b in sw], color=ARROW_RED, lw=0.8, zorder=5, clip_on=False)
    ax.plot([a for a, _ in fc], [b for _, b in fc], color=BLUE_ARROW, lw=0.8, zorder=5, clip_on=False)
    for a, b in zip(sw[:-1], sw[1:]):
        arrow(a, b, ARROW_RED, 0.34, 0.95, 1.2)
    for a, b in zip(fc[:-1], fc[1:]):
        arrow(a, b, BLUE_ARROW, 0.24, 0.75, 1.1)
    for x, y in sw + fc[1:]:
        ax.add_patch(Ellipse((x, y), ew, eh, fill=False, edgecolor=GOLD, lw=2.2, zorder=7, clip_on=False))
    s, lx, ly = p['hi_label']
    ax.text(lx, ly, s, ha='right', va='center', fontsize=7.5, color=NAVY, zorder=8)


def draw_macd(p):
    T = p['top']
    ax = px_axes(X_L, T + 369, X_R, T + 482)
    lo, hi = p['mlim']
    ax.set_ylim(lo, hi)
    ax.axhline(0, color='#BBBBBB', lw=0.8, ls=(0, (1, 2)), zorder=1)
    for g in p['mgrid']:
        ax.axhline(g, color='#D9D9D9', lw=0.8, ls=(0, (1, 2)), zorder=1)
    xs = list(range(len(p['hist'])))
    ax.vlines(xs, 0, p['hist'], colors=[RED if v > 0 else '#3C9A3C' for v in p['hist']], lw=1.2, zorder=2)
    ax.plot([a for a, _ in p['dea']], [b for _, b in p['dea']], color='#FFA040', lw=1.3, zorder=3)
    ax.plot([a for a, _ in p['dif']], [b for _, b in p['dif']], color='#4F6272', lw=1.3, zorder=3)
    mx, my, wpx, hpx = p['mmark']
    ax.add_patch(Ellipse((mx, my), wpx / STEP, hpx * (hi - lo) / 113.0, fill=False, edgecolor=GOLD,
                         lw=2.4, zorder=5))
    # date labels along the bottom band, positioned by the macd x scale
    tr = transforms.blended_transform_factory(ax.transData, bg.transData)
    box = p['date_box']
    for lab, idx in zip(day_labels, day_index):
        xpx = I0 + idx * STEP
        if box and abs(xpx - box[1]) < 36:
            continue
        ax.text(idx, T + 488, lab, transform=tr, ha='center', va='center', fontsize=6.5, color='#555555',
                clip_on=False)
    if box:
        bg.add_patch(Rectangle((box[1] - 28, T + 482), 56, 12, fc='white', ec='#4A90E2', lw=1, zorder=3))
        bg.text(box[1], T + 488, box[0], ha='center', va='center', fontsize=6.5, color='#2F6DC0', zorder=4)


def draw_quote(p):
    T = p['top']
    d = 4 if p['gold'] else 0
    bg.text(705, T + 10, p['qtitle'], ha='center', va='center', fontsize=10.5, color=NAVY)
    bg.add_patch(Rectangle((785, T + 3.5), 11, 11, fc='none', ec='#2A6FA8', lw=1))
    bg.add_patch(Rectangle((787.5, T + 6), 6, 5, fc='none', ec='#2A6FA8', lw=0.8))
    if p['gold']:
        hline(T + 21, 619, 707, color='#E02020', lw=2.5)
        hline(T + 21, 707, 796, color='#108010', lw=2.5)
    for y in (T + 19 + d, T + 40 + d, T + 60 + d, T + 121 + d):
        hline(y, X_R, Q_R, color=FRAME, lw=1)
    for k, (lab, row) in enumerate((('卖出', p['ask']), ('买入', p['bid']))):
        y = T + 30 + d + 20 * k
        bg.text(621, y, lab, va='center', fontsize=8.5, color=NAVY)
        tv = bg.text(645, y, row[0], va='center', fontsize=12.5, color=QCOL[row[2]])
        bg.text(right_of(tv) + 3, y, row[1], va='center', fontsize=12.5, color=NAVY)
    for k, (l1, v1, c1, l2, v2, c2) in enumerate(p['info']):
        y = T + 68 + d + 15 * k
        bg.text(621, y, l1, va='center', fontsize=8, color=NAVY)
        bg.text(703, y, v1, va='center', ha='right', fontsize=8, color=QCOL[c1])
        if l2:
            bg.text(712, y, l2, va='center', fontsize=8, color=NAVY)
            bg.text(796, y, v2, va='center', ha='right', fontsize=8, color=QCOL[c2])
    bg.add_patch(Rectangle((792, T + 73 + d), 4.5, 12, fc='#A0A0A0', ec='none', zorder=3))
    bg.add_patch(Rectangle((792, T + 85 + d), 4.5, 30, fc='#35C835', ec='none', zorder=3))
    hy = T + 130 + d
    if p['gold']:
        bg.add_patch(Rectangle((X_R + 1, T + 126), Q_R - X_R - 2, 15, fc='#FCE7A6', ec=FRAME, lw=0.8))
        bg.text(621, T + 133.5, '单位', va='center', fontsize=8, color=NAVY)
        bg.text(700, T + 133.5, '元/克', va='center', ha='center', fontsize=8, color=NAVY)
        bg.text(794, T + 133.5, '✔ 美元/盎司', va='center', ha='right', fontsize=8, color=NAVY)
        hy += 15
    bg.text(621, hy, '北京', va='center', fontsize=8, color=NAVY)
    bg.text(712, hy, '价格', va='center', ha='center', fontsize=8, color=NAVY)
    bg.text(794, hy, '现手', va='center', ha='right', fontsize=8, color=NAVY)
    for k, (tm, pr, c) in enumerate(p['ticks']):
        y = hy + 16.5 * (k + 1)
        if tm.startswith(':'):
            bg.text(633, y, tm, va='center', fontsize=6.5, color=NAVY)
        elif tm:
            bg.text(621, y, tm, va='center', fontsize=8, color=NAVY)
        bg.text(712, y, pr, va='center', ha='center', fontsize=8, color=QCOL[c])
        bg.text(794, y, '0', va='center', ha='right', fontsize=8, color='#8A8A8A')
    hline(T + 482, 643, Q_R, color=FRAME, lw=1)
    bg.plot([643, 643], [T + 482, T + 493], color=FRAME, lw=1)
    bg.text(624, T + 488, '笔', va='center', fontsize=7.5, color=NAVY)


for p in panels:
    T = p['top']
    # frames
    bg.add_patch(Rectangle((X_L, T), X_R - X_L, 493, fc=CREAM, ec='none'))
    bg.add_patch(Rectangle((X_R, T), Q_R - X_R, 493, fc=CREAM, ec=FRAME, lw=1.2))
    for y in (T, T + 15, T + 493):
        hline(y, color=FRAME, lw=1.2)
    for y in (T + 295, T + 369, T + 482):
        hline(y, color='#D0D0D0', lw=1)
    hline(T + 330, color='#E2E2E2', lw=0.8, ls=(0, (1, 2)))
    # header links
    for s, cx in (('商品叠加', 512), ('周期', 553)):
        bg.text(cx, T + 7.5, s, ha='center', va='center', fontsize=7.5, color='#24527F')
        half = 18 if len(s) == 4 else 9
        hline(T + 13, cx - half, cx + half, color='#24527F', lw=0.7)
    for x0 in (578, 589):
        bg.add_patch(Rectangle((x0, T + 3), 10, 9, fc='none', ec='#2A6FA8', lw=0.9))
    # MA header
    x = X_L
    for s, col in p['ma_text']:
        tt = bg.text(x, T + 22, s, va='center', fontsize=6.8, color=col)
        x = right_of(tt) + 4
    if p['gold']:
        bg.text(X_L, T + 36, '005', va='center', fontsize=6.8, color=NAVY)
    bg.text(p['title_xy'][0], T + p['title_xy'][1], p['title'], ha='center', va='center', fontsize=18.5,
            color='#F24444', zorder=1)
    if p['timer']:
        bg.text(557, T + 288, p['timer'], va='center', fontsize=6.8, color=NAVY, zorder=1)
    # note area
    bg.text(X_L, T + 302, 'VOL2:0.0000', va='center', fontsize=6.8, color='#FF9A1A')
    for k, line in enumerate(p['note']):
        bg.text(p['note_x'], T + 318 + 16.5 * k, line, va='center', fontsize=8.75, color='#F43B3B')
    hline(T + 366, X_L, 561, color='#3C8C2C', lw=1.6)
    hline(T + 366, X_L, 561, color='#FF3A1A', lw=1.6, dashes=(4, 3))
    bg.text(X_L, T + 377, p['macd_label'], va='center', fontsize=6.8, color='#707070')
    if p['right_box']:
        s, dy = p['right_box']
        bg.add_patch(Rectangle((578, T + dy - 6.5), 39, 13, fc='white', ec='#4A90E2', lw=1, zorder=2))
        bg.text(580, T + dy, s, va='center', fontsize=6.8, color='#2F6DC0', zorder=3)
    draw_quote(p)
    draw_main(p)
    draw_macd(p)

fig.savefig('out.png', dpi=100, facecolor='white')
